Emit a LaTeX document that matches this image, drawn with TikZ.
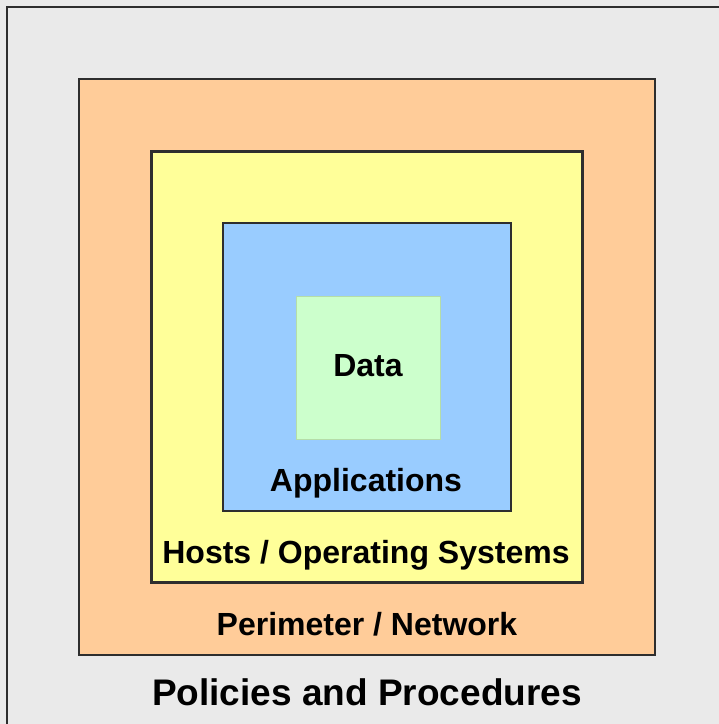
\documentclass[tikz,border=0pt]{standalone}
\usepackage{fontspec}
\setmainfont{Liberation Sans}
\definecolor{bggray}{HTML}{EAEAEA}
\definecolor{edge}{HTML}{2E2E2E}
\definecolor{perimc}{HTML}{FFCC99}
\definecolor{hostc}{HTML}{FFFF99}
\definecolor{appc}{HTML}{99CCFF}
\definecolor{datac}{HTML}{CCFFCC}
\definecolor{dataedge}{HTML}{B5DDA8}
\begin{document}
\begin{tikzpicture}[x=1pt,y=-1pt,
  layerbox/.style={draw=edge, line width=2.4pt, inner sep=0pt, outer sep=0pt},
  lbl/.style={anchor=base, inner sep=0pt, font=\bfseries\fontsize{32}{38}\selectfont},
  biglbl/.style={anchor=base, inner sep=0pt, font=\bfseries\fontsize{37}{44}\selectfont}]
\useasboundingbox (0,0) rectangle (719,724);
\fill[bggray] (0,0) rectangle (719,724);
\draw[draw=edge, line width=2.4pt] (7,730) -- (7,7) -- (730,7);
\node[layerbox, fill=perimc, minimum width=576pt, minimum height=576pt] (perim) at (367,367) {};
\node[layerbox, fill=hostc, minimum width=431pt, minimum height=431pt] (hosts) at (367,367) {};
\node[layerbox, fill=appc, minimum width=288pt, minimum height=288pt] (apps) at (367,367) {};
\node[draw=dataedge, line width=0.8pt, fill=datac, inner sep=0pt, minimum width=144pt, minimum height=143pt] (data) at (368,367.5) {};
\node[lbl] (tdata) at (368,376) {Data};
\node[lbl] (tapps) at (366,491) {Applications};
\node[lbl] (thosts) at (366,563) {Hosts / Operating Systems};
\node[lbl] (tperim) at (367,635) {Perimeter / Network};
\node[biglbl] (tpol) at (367,705) {Policies and Procedures};
\end{tikzpicture}
\end{document}
